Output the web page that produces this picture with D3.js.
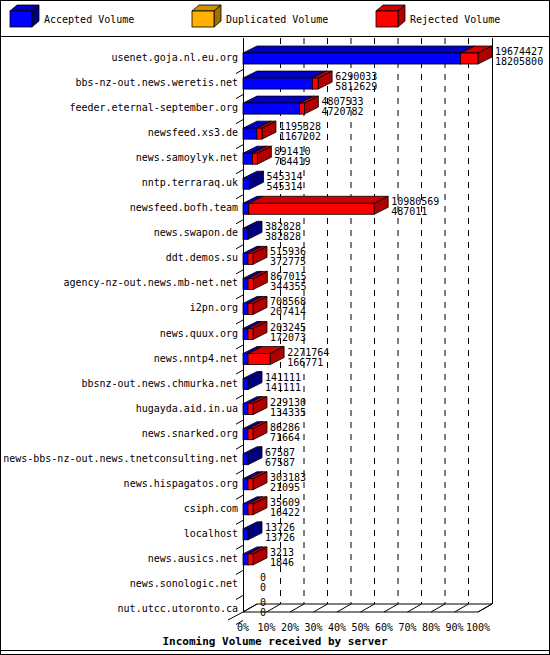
<!DOCTYPE html><html><head><script src="https://cdn.jsdelivr.net/npm/d3@7"></script>
<style>body{margin:0;background:#fff}text{font-family:"DejaVu Sans Mono",monospace}</style></head><body><svg id="c" width="550" height="655"></svg>
<script>
const servers=["usenet.goja.nl.eu.org","bbs-nz-out.news.weretis.net","feeder.eternal-september.org","newsfeed.xs3.de","news.samoylyk.net","nntp.terraraq.uk","newsfeed.bofh.team","news.swapon.de","ddt.demos.su","agency-nz-out.news.mb-net.net","i2pn.org","news.quux.org","news.nntp4.net","bbsnz-out.news.chmurka.net","hugayda.aid.in.ua","news.snarked.org","news-bbs-nz-out.news.tnetconsulting.net","news.hispagatos.org","csiph.com","localhost","news.ausics.net","news.sonologic.net","nut.utcc.utoronto.ca"];
const totals=[19674427,6290033,4807533,1195328,891410,545314,10980569,382828,515936,867015,708568,203245,2271764,141111,229130,86286,67587,303183,35609,13726,3213,0,0];
const accepted=[18205800,5812629,4720782,1167202,784419,545314,487011,382828,372775,344355,207414,172073,166771,141111,134335,71664,67587,21095,16422,13726,1846,0,0];
const ticks=["0%","10%","20%","30%","40%","50%","60%","70%","80%","90%","100%"];
const legend=[["Accepted Volume","#0000ff","#0000c0","#000080"],["Duplicated Volume","#ffb000","#d09000","#a07000"],["Rejected Volume","#ff0000","#d00000","#b00000"]];
const svg=d3.select("#c");
svg.append("rect").attr("x",0.5).attr("y",0.5).attr("width",549).attr("height",654).attr("fill","none").attr("stroke","#000");
svg.append("line").attr("x1",0).attr("x2",550).attr("y1",36.5).attr("y2",36.5).attr("stroke","#000");
svg.append("line").attr("x1",0).attr("x2",550).attr("y1",650.5).attr("y2",650.5).attr("stroke","#000");
const DX=14,DY=7,FX=14,FY=8;
function box(g,x0,x1,y,h,c,dx,dy){
 g.append("polygon").attr("points",[[x0,y],[x0+dx,y-dy],[x1+dx,y-dy],[x1,y]].join(" ")).attr("fill",c[2]).attr("stroke","#000").attr("stroke-width",0.8);
 g.append("polygon").attr("points",[[x1,y],[x1+dx,y-dy],[x1+dx,y+h-dy],[x1,y+h]].join(" ")).attr("fill",c[3]).attr("stroke","#000").attr("stroke-width",0.8);
 g.append("rect").attr("x",x0).attr("y",y).attr("width",x1-x0).attr("height",h).attr("fill",c[1]).attr("stroke","#000").attr("stroke-width",0.8);
}
const lg=svg.append("g");
[10,192,376].forEach((lx,i)=>{
 const c=legend[i];
 box(lg,lx,lx+22,11,16,c,7,6);
 lg.append("text").attr("x",lx+34).attr("y",23).attr("font-size",10).text(c[0]);
});
const x=d3.scaleLinear().domain([0,100]).range([243,478]);
const y=d3.scaleBand().domain(servers).range([44.5,620.5]).paddingInner(0);
const y0=612,ytop=38;
// back wall grid
const g=svg.append("g");
g.append("line").attr("x1",243.5).attr("x2",243.5).attr("y1",ytop).attr("y2",y0).attr("stroke","#000");
g.append("line").attr("x1",x(100)+FX+0.5).attr("x2",x(100)+FX+0.5).attr("y1",ytop).attr("y2",y0-FY).attr("stroke","#000");
d3.range(1,10).forEach(k=>{
 g.append("line").attr("x1",x(k*10)+FX).attr("x2",x(k*10)+FX).attr("y1",ytop).attr("y2",y0-FY).attr("stroke","#000").attr("stroke-dasharray","6,6");
});
// floor
g.append("polygon").attr("points",[[x(0),y0],[x(0)+FX,y0-FY],[x(100)+FX,y0-FY],[x(100),y0]].join(" ")).attr("fill","none").attr("stroke","#000");
g.append("line").attr("x1",228).attr("x2",243).attr("y1",y0+8).attr("y2",y0).attr("stroke","#000");
// side wall slants per row
servers.forEach(s=>{
 const yy=y(s)+y.bandwidth();
 g.append("line").attr("x1",236).attr("x2",243).attr("y1",yy+4).attr("y2",yy).attr("stroke","#000");
});
d3.range(0,11).forEach(k=>{
 const xx=x(k*10);
 g.append("line").attr("x1",xx).attr("x2",xx+FX).attr("y1",y0).attr("y2",y0-FY).attr("stroke","#000");
 g.append("text").attr("x",xx).attr("y",y0+19).attr("text-anchor","middle").attr("font-size",10).text(ticks[k]);
});
const blue=legend[0],red=legend[2];
const max=d3.max(totals);
servers.forEach((s,i)=>{
 const cy=y(s)+y.bandwidth()/2;
 g.append("text").attr("x",238).attr("y",cy+4).attr("text-anchor","end").attr("font-size",10).text(s);
 const by=cy-4,h=11;
 let end=x(0);
 if(totals[i]>0){
  let xa=Math.max(x(accepted[i]/max*100),x(0)+5);
  let xt=Math.max(x(totals[i]/max*100),xa+(totals[i]>accepted[i]?5:0));
  if(accepted[i]>0) box(g,x(0),xa,by,h,blue,DX,DY);
  if(totals[i]>accepted[i]) box(g,xa,xt,by,h,red,DX,DY);
  end=xt;
 }
 const tx=end+DX+3;
 g.append("text").attr("x",tx).attr("y",cy-2).attr("font-size",10).text(totals[i]);
 g.append("text").attr("x",tx).attr("y",cy+8).attr("font-size",10).text(accepted[i]);
});
svg.append("text").attr("x",275).attr("y",645).attr("text-anchor","middle").attr("font-size",11).attr("font-weight","bold").text("Incoming Volume received by server");
</script></body></html>
